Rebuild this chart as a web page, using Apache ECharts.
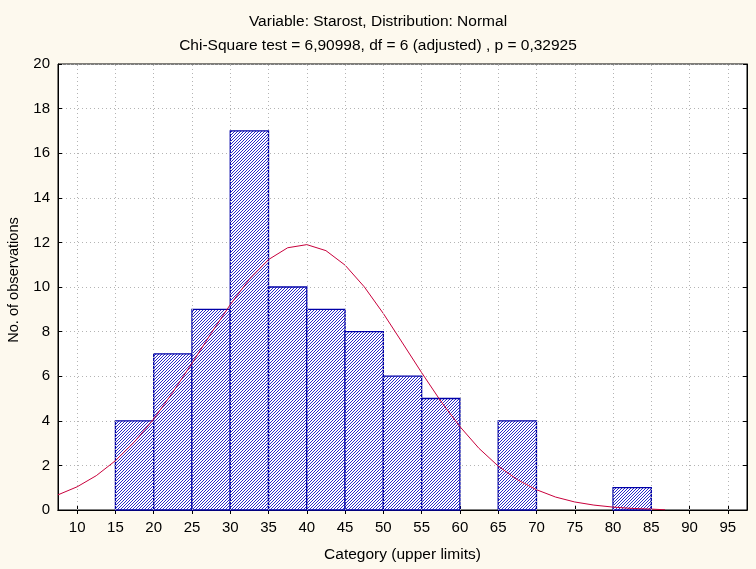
<!DOCTYPE html>
<html>
<head>
<meta charset="utf-8">
<script src="https://cdn.jsdelivr.net/npm/echarts@6/dist/echarts.min.js"></script>
<style>
html,body{margin:0;padding:0;background:#fdf9ee;}
#chart{width:756px;height:569px;}
</style>
</head>
<body>
<div id="chart"></div>
<script>
// ---- data ----
const titleLine1 = 'Variable: Starost, Distribution: Normal';
const titleLine2 = 'Chi-Square test = 6,90998, df = 6 (adjusted) , p = 0,32925';
const xAxisName = 'Category (upper limits)';
const yAxisName = 'No. of observations';
const xTickValues = [10,15,20,25,30,35,40,45,50,55,60,65,70,75,80,85,90,95];
const yTickValues = [0,2,4,6,8,10,12,14,16,18,20];
const binLower = [15,20,25,30,35,40,45,50,55,65,80];
const binUpper = [20,25,30,35,40,45,50,55,60,70,85];
const counts   = [4, 7, 9, 17,10, 9, 8, 6, 5, 4, 1];
// expected normal curve
const curveX = [7.5,10,12.5,15,17.5,20,22.5,25,27.5,30,32.5,35,37.5,40,42.5,45,47.5,50,52.5,55,57.5,60,62.5,65,67.5,70,72.5,75,77.5,80,82.5,85,86.8];
const curveY = [0.68,1.04,1.54,2.21,3.06,4.08,5.28,6.58,7.92,9.21,10.35,11.23,11.76,11.9,11.63,10.98,10.01,8.81,7.49,6.16,4.88,3.74,2.76,1.97,1.36,0.91,0.58,0.36,0.22,0.13,0.07,0.04,0.01];

// ---- hatch pattern ----
const pc = document.createElement('canvas');
pc.width = 3; pc.height = 3;
const pctx = pc.getContext('2d');
pctx.fillStyle = '#ffffff'; pctx.fillRect(0,0,3,3);
pctx.fillStyle = '#2a2ac8';
pctx.fillRect(2,0,1,1); pctx.fillRect(1,1,1,1); pctx.fillRect(0,2,1,1);
const hatch = {image: pc, repeat: 'repeat'};

const barData = binLower.map((l,i)=>[l, binUpper[i], counts[i]]);
const curveData = curveX.map((x,i)=>[x, curveY[i]]);

const chart = echarts.init(document.getElementById('chart'));
const font = 'Liberation Sans, Arial, sans-serif';
const txt = {color:'#000', fontFamily:font, fontSize:15};
chart.setOption({
  backgroundColor:'#fdf9ee',
  animation:false,
  title:{
    text: titleLine1 + '\n' + titleLine2,
    left:'center', top:5,
    textStyle:{color:'#000', fontFamily:font, fontSize:15.5, fontWeight:'normal', lineHeight:24}
  },
  grid:{left:58, right:9, top:64, bottom:59, containLabel:false, outerBoundsMode:'none',
        show:true, backgroundColor:'#ffffff', borderColor:'#000', borderWidth:1},
  xAxis:[{
    type:'value', min:7.5, max:97.5,
    name:xAxisName, nameLocation:'middle', nameGap:37,
    nameTextStyle:{color:'#000', fontFamily:font, fontSize:15.5},
    axisLine:{show:true, lineStyle:{color:'#000'}},
    axisTick:{show:true, inside:true, length:4, customValues:xTickValues, lineStyle:{color:'#000'}},
    axisLabel:{...txt, margin:10, customValues:xTickValues},
    splitLine:{show:false}
  },{
    type:'value', min:7.5, max:97.5, position:'top',
    axisLine:{show:true, lineStyle:{color:'#000'}},
    axisTick:{show:true, inside:true, length:4, customValues:xTickValues, lineStyle:{color:'#000'}},
    axisLabel:{show:false}, splitLine:{show:false}
  }],
  yAxis:[{
    type:'value', min:0, max:20, interval:2,
    name:yAxisName, nameLocation:'middle', nameGap:37,
    nameTextStyle:{color:'#000', fontFamily:font, fontSize:14.6, padding:[0,0,0,14]},
    axisLine:{show:true, lineStyle:{color:'#000'}},
    axisTick:{show:true, inside:true, length:4, lineStyle:{color:'#000'}},
    axisLabel:{...txt, margin:8},
    splitLine:{show:true, lineStyle:{color:'#b4b4b4', type:[1,3], width:1}}
  },{
    type:'value', min:0, max:20, interval:2, position:'right',
    axisLine:{show:true, lineStyle:{color:'#000'}},
    axisTick:{show:true, inside:true, length:4, lineStyle:{color:'#000'}},
    axisLabel:{show:false}, splitLine:{show:false}
  }],
  series:[
    {
      type:'line', data:[], xAxisIndex:0, yAxisIndex:0, silent:true, z:1,
      markLine:{
        silent:true, symbol:'none', label:{show:false},
        lineStyle:{color:'#b4b4b4', type:[1,3], width:1},
        data: xTickValues.map(v=>({xAxis:v}))
      }
    },
    {
      type:'custom', xAxisIndex:0, yAxisIndex:0, z:2,
      data: barData,
      encode:{x:[0,1], y:2},
      renderItem:function(params, api){
        const p0 = api.coord([api.value(0), api.value(2)]);
        const p1 = api.coord([api.value(1), 0]);
        return {
          type:'rect',
          shape:{x:p0[0], y:p0[1], width:p1[0]-p0[0], height:p1[1]-p0[1]},
          style:{fill:hatch, stroke:'#0000a8', lineWidth:1.3}
        };
      }
    },
    {
      type:'line', xAxisIndex:0, yAxisIndex:0, z:3,
      data: curveData, showSymbol:false, smooth:false,
      lineStyle:{color:'#c8003c', width:1}
    }
  ]
});
</script>
</body>
</html>
